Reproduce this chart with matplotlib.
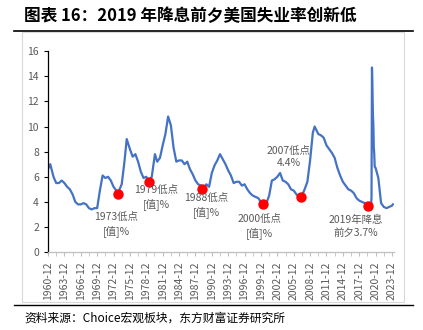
import matplotlib
matplotlib.use("Agg")
from matplotlib import pyplot as plt
from matplotlib.patches import Rectangle
from matplotlib.lines import Line2D

plt.rcParams['font.family'] = ['Noto Sans CJK SC', 'DejaVu Sans']

# US unemployment rate (%), month -> value
months = [
    "1960-12", "1961-05", "1961-12", "1962-06", "1962-12", "1963-06", "1963-12",
    "1964-06", "1964-12", "1965-06", "1965-12", "1966-06", "1966-12", "1967-06",
    "1967-12", "1968-06", "1968-12", "1969-06", "1969-12", "1970-06", "1970-12",
    "1971-06", "1971-12", "1972-06", "1972-12", "1973-06", "1973-10", "1973-12",
    "1974-06", "1974-12", "1975-05", "1975-12", "1976-06", "1976-12", "1977-06",
    "1977-12", "1978-06", "1978-12", "1979-05", "1979-12", "1980-07", "1980-12",
    "1981-06", "1981-12", "1982-06", "1982-12", "1983-06", "1983-12", "1984-06",
    "1984-12", "1985-06", "1985-12", "1986-06", "1986-12", "1987-06", "1987-12",
    "1988-06", "1988-12", "1989-03", "1989-12", "1990-06", "1990-12", "1991-06",
    "1991-12", "1992-06", "1992-12", "1993-06", "1993-12", "1994-06", "1994-12",
    "1995-06", "1995-12", "1996-06", "1996-12", "1997-06", "1997-12", "1998-06",
    "1998-12", "1999-06", "1999-12", "2000-04", "2000-12", "2001-06", "2001-12",
    "2002-06", "2002-12", "2003-06", "2003-12", "2004-06", "2004-12", "2005-06",
    "2005-12", "2006-06", "2006-12", "2007-05", "2007-12", "2008-06", "2008-12",
    "2009-06", "2009-10", "2010-06", "2010-12", "2011-06", "2011-12", "2012-06",
    "2012-12", "2013-06", "2013-12", "2014-06", "2014-12", "2015-06", "2015-12",
    "2016-06", "2016-12", "2017-06", "2017-12", "2018-06", "2018-12", "2019-07",
    "2019-12", "2020-02", "2020-03", "2020-04", "2020-05", "2020-06", "2020-07",
    "2020-08", "2020-09", "2020-10", "2020-12", "2021-06", "2021-12", "2022-06",
    "2022-12", "2023-06", "2023-12", "2024-02",
]
rate = [
    6.6, 7.0, 6.0, 5.5, 5.5, 5.7, 5.5,
    5.2, 5.0, 4.6, 4.0, 3.8, 3.8, 3.9,
    3.8, 3.5, 3.4, 3.5, 3.5, 4.9, 6.1,
    5.9, 6.0, 5.7, 5.2, 4.9, 4.6, 4.9,
    5.4, 7.2, 9.0, 8.2, 7.6, 7.8, 7.2,
    6.4, 5.9, 6.0, 5.6, 6.0, 7.8, 7.2,
    7.5, 8.5, 9.4, 10.8, 10.1, 8.3, 7.2,
    7.3, 7.3, 7.0, 7.2, 6.6, 6.2, 5.7,
    5.4, 5.3, 5.0, 5.4, 5.2, 6.3, 6.9,
    7.3, 7.8, 7.4, 7.0, 6.5, 6.1, 5.5,
    5.6, 5.6, 5.3, 5.4, 5.0, 4.7, 4.5,
    4.4, 4.3, 4.0, 3.8, 3.9, 4.5, 5.7,
    5.8, 6.0, 6.3, 5.7, 5.6, 5.4, 5.0,
    4.9, 4.6, 4.4, 4.4, 5.0, 5.6, 7.3,
    9.5, 10.0, 9.4, 9.3, 9.1, 8.5, 8.2,
    7.9, 7.5, 6.7, 6.1, 5.6, 5.3, 5.0,
    4.9, 4.7, 4.3, 4.1, 4.0, 3.9, 3.7,
    3.6, 3.5, 4.4, 14.7, 13.2, 11.0, 10.2,
    8.4, 7.8, 6.8, 6.7, 5.9, 3.9, 3.6,
    3.5, 3.6, 3.7, 3.8,
]

# highlighted lows
low_months = ["1973-10", "1979-05", "1989-03", "2000-04", "2007-05", "2019-07"]
low_rates = [4.6, 5.6, 5.0, 3.8, 4.4, 3.7]
low_labels = ["1973低点\n[值]%", "1979低点\n[值]%", "1988低点\n[值]%",
              "2000低点\n[值]%", "2007低点\n4.4%", "2019年降息\n前夕3.7%"]
label_offsets = [(-2, -30), (8, -16), (4, -16), (-3, -22), (-13, 40), (-12, -21)]

tick_labels = ["%d-12" % y for y in range(1960, 2024, 3)]

title = "图表 16：2019 年降息前夕美国失业率创新低"
source = "资料来源：Choice宏观板块，东方财富证券研究所"


def to_year(m):
    y, mo = m.split("-")
    return int(y) + (int(mo) - 1) / 12.0


x = [to_year(m) for m in months]
low_x = [to_year(m) for m in low_months]

fig = plt.figure(figsize=(4.23, 3.30), dpi=100)

# frame around the chart area
fig.patches.append(Rectangle((0.052, 0.085), 0.903, 0.818, transform=fig.transFigure,
                             fill=False, edgecolor="#D9D9D9", linewidth=0.8))
fig.lines.append(Line2D([0.033, 0.976], [0.906, 0.906], transform=fig.transFigure,
                        color="black", linewidth=1.2))
fig.lines.append(Line2D([0.033, 0.976], [0.076, 0.076], transform=fig.transFigure,
                        color="black", linewidth=1.0))

fig.text(0.057, 0.951, title, fontsize=12, fontweight="bold", va="center", ha="left")
fig.text(0.057, 0.036, source, fontsize=8.5, va="center", ha="left")

ax = fig.add_axes([0.1135, 0.236, 0.8175, 0.609])
ax.plot(x, rate, color="#4472C4", linewidth=1.6, zorder=2)
ax.plot(low_x, low_rates, "o", color="#FF0000", markersize=6.5, zorder=3)

for lx, ly, txt, off in zip(low_x, low_rates, low_labels, label_offsets):
    ax.annotate(txt, (lx, ly), xytext=off, textcoords="offset pixels",
                ha="center", va="center", fontsize=7.5, color="#595959",
                linespacing=1.35)

ax.set_ylim(0, 16)
ax.set_yticks(range(0, 17, 2))
ax.set_xlim(to_year("1960-12"), 2024.25)
ax.set_xticks([to_year(t) for t in tick_labels])
ax.set_xticklabels(tick_labels, rotation=90)
ax.set_xticks([to_year(t) + 1.5 for t in tick_labels[:-1]], minor=True)

for side in ["top", "right"]:
    ax.spines[side].set_visible(False)
ax.spines["left"].set_color("black")
ax.spines["left"].set_linewidth(0.9)
ax.spines["bottom"].set_color("#BFBFBF")
ax.spines["bottom"].set_linewidth(0.9)
ax.tick_params(axis="y", labelsize=7.5, labelcolor="#595959", length=3, color="black")
ax.tick_params(axis="x", which="both", labelsize=7.5, labelcolor="#595959",
               length=3, color="#BFBFBF")
ax.patch.set_visible(False)

plt.savefig("out.png", dpi=100)
